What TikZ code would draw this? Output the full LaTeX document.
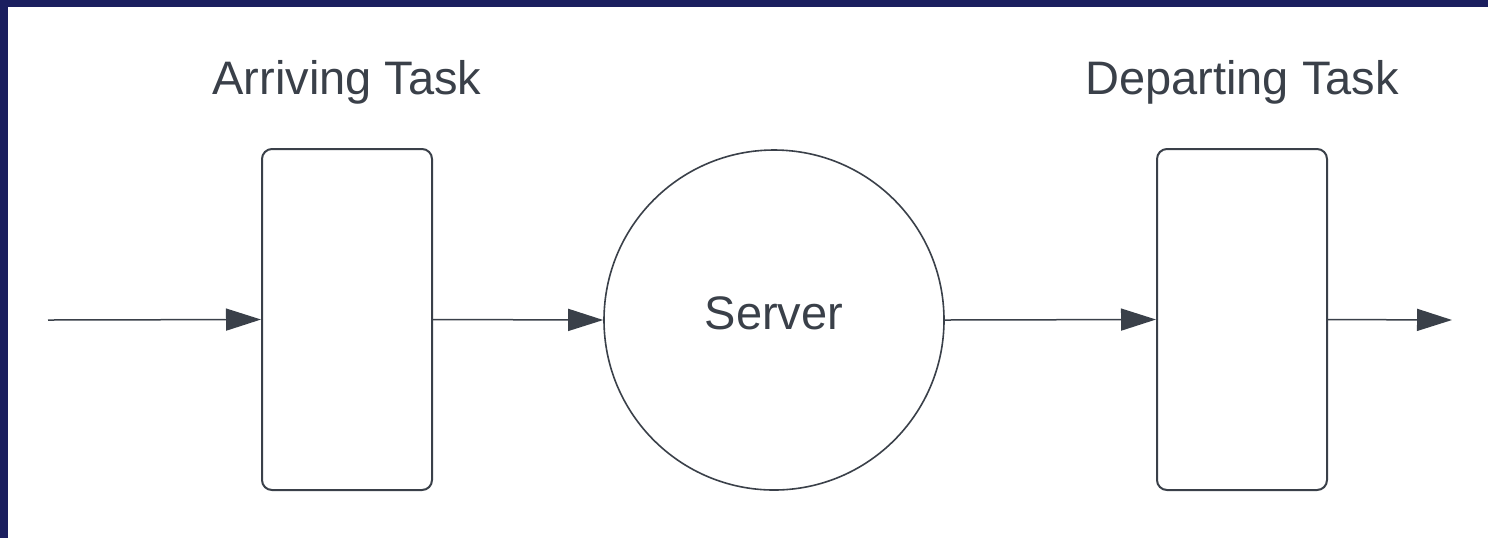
\documentclass[tikz,border=0pt]{standalone}
\usepackage{fontspec}
\setmainfont{Liberation Sans}
\usepackage{tikz}
\usetikzlibrary{arrows.meta,positioning}
\definecolor{frame}{HTML}{1B1F5F}
\definecolor{ink}{HTML}{3A4049}

\begin{document}
\begin{tikzpicture}[x=0.5pt,y=-0.5pt,>={Triangle[length=17.5pt,width=11pt]},
  queue/.style={draw=ink,line width=1pt,rounded corners=5pt,minimum width=85pt,minimum height=170.5pt,inner sep=0pt},
  srv/.style={draw=ink,line width=0.8pt,circle,minimum size=170pt,inner sep=0pt,text=ink,font=\fontsize{23.5}{28}\selectfont},
  title/.style={text=ink,font=\fontsize{23.5}{28}\selectfont,inner sep=0pt},
  flow/.style={->,draw=ink,line width=0.75pt,color=ink}]
% page and frame
\useasboundingbox (0,0) rectangle (1488,538);
\fill[white] (0,0) rectangle (1488,538);
\fill[frame] (0,0) rectangle (8,538);
\fill[frame] (0,0) rectangle (1488,7);
% queues and server
\node[queue] (arrive) at (347,319.5) {};
\node[srv] (server) at (774,320) {\raisebox{3.5pt}[\height][\depth]{Server}};
\node[queue] (depart) at (1242,319.5) {};
\node[title] (arrivelbl) at (347,82) {Arriving Task};
\node[title] (departlbl) at (1242,82) {Departing Task};
% flow of tasks
\coordinate (in) at (48,320);
\coordinate (out) at (1452,320);
\draw[flow] (in) -- (arrive.west);
\draw[flow] (arrive.east) -- (server.west);
\draw[flow] (server.east) -- (depart.west);
\draw[flow] (depart.east) -- (out);
\end{tikzpicture}
\end{document}
